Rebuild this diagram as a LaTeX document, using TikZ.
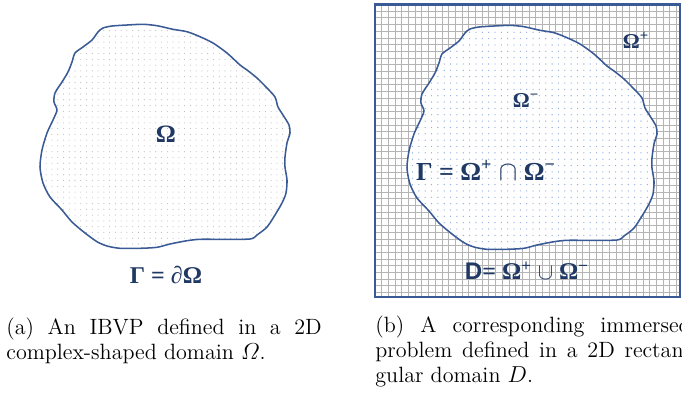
\documentclass[tikz,border=0pt]{standalone}
\usepackage{amsmath}
\usepackage{fontspec}
\newfontfamily\lblserif{Liberation Serif}
\newfontfamily\lblsans{Liberation Sans}
\definecolor{ibnavy}{HTML}{1F3864}
\definecolor{ibedge}{HTML}{3A5A96}
\definecolor{ibgrid}{HTML}{B4B4B4}
\definecolor{ibdotgray}{HTML}{BDBDBD}
\definecolor{ibdotblue}{HTML}{8FAEDD}
\usetikzlibrary{patterns.meta}

\begin{document}
\begin{tikzpicture}[x=0.52pt, y=-0.52pt,
  blob/.style={insert path={plot[smooth cycle, tension=0.45] coordinates {
    (98,32) (103,28) (112,26) (127,25) (143,24.3) (157,25.7) (173,29.3)
    (187,31.7) (200,36.7) (213,43) (227,53) (240,65) (247,70) (257,78)
    (267,88) (275,97) (278,107) (283,115) (289,125) (290,133) (287,143)
    (285,157) (285,167) (287,180) (286,193) (282,203) (275,215) (267,227)
    (257,235) (250,239) (220,239.3) (200,239.3) (187,240.7) (170,244)
    (157,247.3) (140,248.3) (120,248.3) (107,246) (97,241.7) (85,233)
    (72,222) (62,210) (50,197) (43,183) (40,167) (42,150) (47,133)
    (53,120) (57,110) (54,102) (55,93) (62,82) (68,72) (72,62) (75,53)
    (83,47) (92,40)}}},
  outline/.style={draw=ibedge, line width=0.8pt},
  gridline/.style={draw=ibgrid, line width=0.45pt},
  lbl/.style={text=ibnavy, inner sep=0pt, font=\lblserif\bfseries},
  caption/.style={inner sep=0pt, anchor=north west, text width=164pt,
                  align=justify, font=\fontsize{11.5}{13}\selectfont}
]
\useasboundingbox (0,0) rectangle (682,394);

% (a) complex-shaped domain
\path[blob, pattern={Dots[distance=3pt, radius=0.3pt]}, pattern color=ibdotgray];
\path[blob, outline];
\node[lbl, font=\lblserif\bfseries\fontsize{13}{14}\selectfont] (omega) at (166,134) {Ω};
\node[lbl, font=\lblserif\bfseries\fontsize{12.5}{14}\selectfont] (gamma) at (166,275) {Γ = ∂Ω};

% (b) rectangular domain with grid
\foreach \gx in {0,...,45}
  \draw[gridline] ({375+6.7*\gx},4.5) -- ({375+6.7*\gx},297);
\foreach \gy in {0,...,43}
  \draw[gridline] (375,{4.5+6.7*\gy}) -- (680,{4.5+6.7*\gy});
\begin{scope}[shift={(367,1)}]
  \fill[blob, white];
  \path[blob, pattern={Dots[distance=3.3pt, radius=0.35pt]}, pattern color=ibdotblue];
  \path[blob, outline];
\end{scope}
\draw[draw=ibedge, line width=1.3pt] (375,4.5) rectangle (680,297);

\node[lbl, font=\lblserif\bfseries\fontsize{11}{12}\selectfont] (omplus) at (636,40) {Ω\textsuperscript{+}};
\node[lbl, font=\lblserif\bfseries\fontsize{11}{12}\selectfont] (omminus) at (526,100) {Ω\textsuperscript{−}};
\node[lbl, font=\lblserif\bfseries\fontsize{13.5}{15}\selectfont] (inter) at (486,170)
  {Γ = Ω\textsuperscript{+} $\cap$ Ω\textsuperscript{−}};
\node[lbl, font=\lblserif\bfseries\fontsize{12.5}{14}\selectfont] (union) at (527,271)
  {{\lblsans D}= Ω\textsuperscript{+} $\cup$ Ω\textsuperscript{−}};

% captions
\node[caption] (capa) at (6,318)
  {(a) An IBVP defined in a 2D\linebreak complex-shaped domain $\varOmega$.};
\node[caption] (capb) at (375,316)
  {(b) A corresponding immersed\linebreak problem defined in a 2D rectan-\linebreak gular domain $D$.};
\end{tikzpicture}
\end{document}
